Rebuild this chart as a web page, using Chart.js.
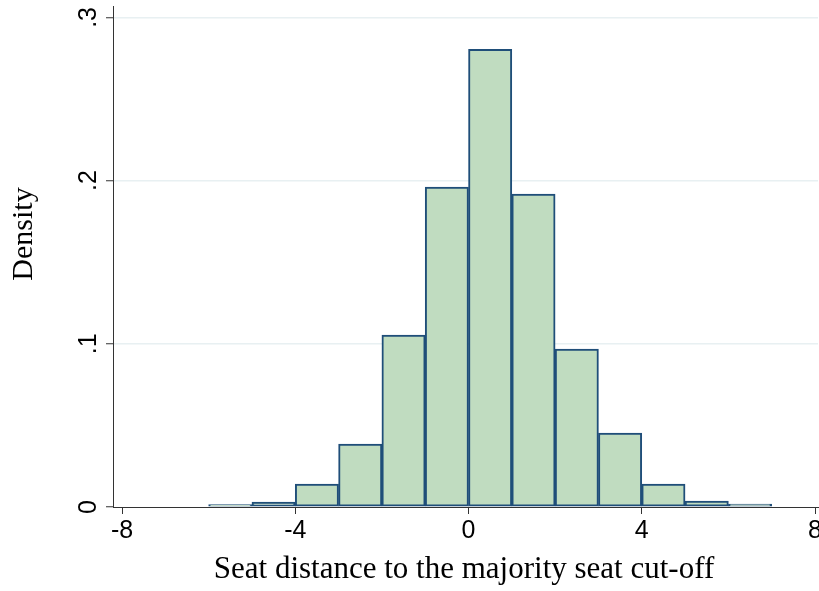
<!DOCTYPE html>
<html>
<head>
<meta charset="utf-8">
<script src="https://cdn.jsdelivr.net/npm/chart.js@4/dist/chart.umd.min.js"></script>
<style>
  html, body { margin: 0; padding: 0; background: #fff; }
  #wrap { width: 819px; height: 591px; }
</style>
</head>
<body>
<div id="wrap"><canvas id="c" width="819" height="591"></canvas></div>
<script>
// Histogram of seat distance (bins of width 1), density scale
const binCenters = [-5.5, -4.5, -3.5, -2.5, -1.5, -0.5, 0.5, 1.5, 2.5, 3.5, 4.5, 5.5, 6.5];
const densities  = [0.0015, 0.0030, 0.0141, 0.0386, 0.1053, 0.1960, 0.2805, 0.1917, 0.0968, 0.0453, 0.0141, 0.0037, 0.0018];
const xTicks = [-8, -4, 0, 4, 8];
const xTickLabels = ['-8', '-4', '0', '4', '8'];
const yTicks = [0, 0.1, 0.2, 0.3];
const yTickLabels = ['0', '.1', '.2', '.3'];
const xTitle = 'Seat distance to the majority seat cut-off';
const yTitle = 'Density';

// Tick labels (y ones rotated) and serif axis titles
const axisText = {
  id: 'axisText',
  afterDraw(chart) {
    const c = chart.ctx;
    const xs = chart.scales.x;
    const ys = chart.scales.y;
    c.save();
    c.fillStyle = '#000';
    c.font = '25px "Liberation Sans", Arial, sans-serif';
    c.textAlign = 'center';
    c.textBaseline = 'alphabetic';
    xTicks.forEach((v, i) => {
      c.fillText(xTickLabels[i], xs.getPixelForValue(v), 538);
    });
    yTicks.forEach((v, i) => {
      c.save();
      c.translate(96, ys.getPixelForValue(v));
      c.rotate(-Math.PI / 2);
      c.fillText(yTickLabels[i], 0, 0);
      c.restore();
    });
    c.font = '31px "Liberation Serif", "Times New Roman", serif';
    c.fillText(xTitle, 464, 578);
    c.save();
    c.translate(32, 234);
    c.rotate(-Math.PI / 2);
    c.font = '30px "Liberation Serif", "Times New Roman", serif';
    c.fillText(yTitle, 0, 0);
    c.restore();
    c.restore();
  }
};

const ctx = document.getElementById('c').getContext('2d');
new Chart(ctx, {
  type: 'bar',
  data: {
    datasets: [{
      data: binCenters.map((x, i) => ({ x: x, y: densities[i] })),
      backgroundColor: '#c0dcc0',
      borderColor: '#1f4e79',
      borderWidth: 2,
      borderSkipped: false,
      barPercentage: 1,
      categoryPercentage: 1
    }]
  },
  plugins: [axisText],
  options: {
    responsive: false,
    animation: false,
    layout: { padding: { top: 6, right: 1, left: 0, bottom: 0 } },
    plugins: { legend: { display: false }, tooltip: { enabled: false } },
    scales: {
      x: {
        type: 'linear',
        offset: false,
        min: -8.208,
        max: 8.069,
        afterBuildTicks: s => { s.ticks = xTicks.map(v => ({ value: v })); },
        afterFit: s => { s.height = 84; },
        ticks: { display: false },
        grid: { offset: false, drawOnChartArea: false, tickLength: 7, tickColor: '#333', tickWidth: 1 },
        border: { color: '#333', width: 1 }
      },
      y: {
        min: 0,
        max: 0.307,
        afterBuildTicks: s => { s.ticks = yTicks.map(v => ({ value: v })); },
        afterFit: s => { s.width = 113; },
        ticks: { display: false },
        grid: {
          color: c => (c.tick && c.tick.value === 0) ? 'rgba(0,0,0,0)' : '#e8f0f2',
          lineWidth: 1.5,
          tickLength: 7,
          tickColor: '#333',
          tickWidth: 1
        },
        border: { color: '#333', width: 1 }
      }
    }
  }
});
</script>
</body>
</html>
